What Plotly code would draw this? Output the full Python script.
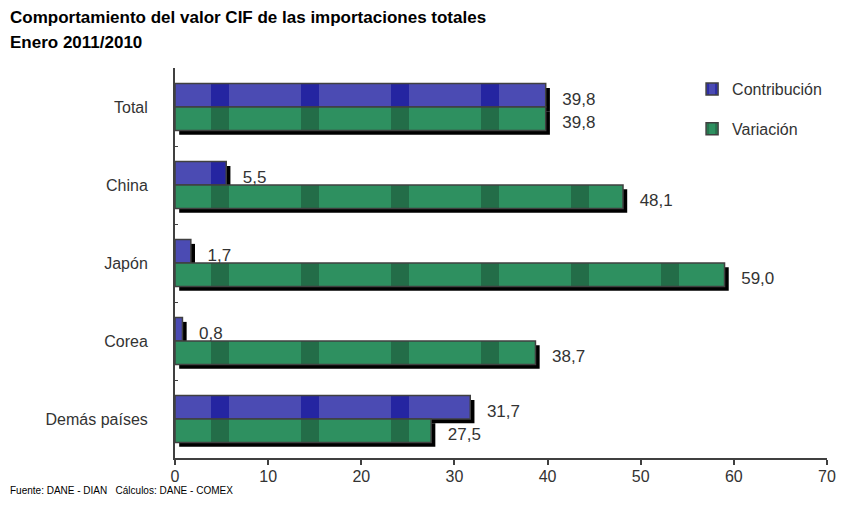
import plotly.graph_objects as go

categories = ["Total", "China", "Japón", "Corea", "Demás países"]
contribucion = [39.8, 5.5, 1.7, 0.8, 31.7]
variacion = [39.8, 48.1, 59.0, 38.7, 27.5]
x_ticks = [0, 10, 20, 30, 40, 50, 60, 70]

def fmt(v):
    return f"{v:.1f}".replace(".", ",")

BAR_W = 0.3
SHADOW_DY = 0.055
SHADOW_DX = 0.45
FONT = "Liberation Sans, Arial, sans-serif"
NARROW = "Liberation Sans Narrow, Arial Narrow, Liberation Sans, sans-serif"

blue = "#4b4bb3"
blue_dark = "#00008f"
green = "#2e9060"
green_dark = "#184a2f"
edge = "#404040"

fig = go.Figure()

# shadows (carry the value labels)
for vals, off in [(contribucion, -BAR_W), (variacion, 0.0)]:
    fig.add_trace(go.Bar(
        y=categories, x=vals, base=SHADOW_DX, orientation="h",
        width=BAR_W, offset=off + SHADOW_DY,
        marker=dict(color="#000000", line=dict(width=0)),
        text=[fmt(v) for v in vals], texttemplate="\u00a0\u00a0%{text}",
        textposition="outside", cliponaxis=False,
        textfont=dict(family=FONT, size=17, color="#333333"),
        showlegend=False, hoverinfo="skip",
    ))

fig.add_trace(go.Bar(
    y=categories, x=contribucion, orientation="h", name="Contribución",
    width=BAR_W, offset=-BAR_W,
    marker=dict(color=blue, line=dict(color=edge, width=1.5),
                pattern=dict(shape="|", fgcolor=blue_dark, bgcolor=blue, size=90,
                             solidity=0.2, fgopacity=0.5)),
    legendgroup="c",
))
fig.add_trace(go.Bar(
    y=categories, x=variacion, orientation="h", name="Variación",
    width=BAR_W, offset=0.0,
    marker=dict(color=green, line=dict(color=edge, width=1.5),
                pattern=dict(shape="|", fgcolor=green_dark, bgcolor=green, size=90,
                             solidity=0.2, fgopacity=0.5)),
    legendgroup="v",
))

fig.update_layout(
    width=844, height=515,
    margin=dict(l=175, r=17, t=68, b=57, autoexpand=False),
    paper_bgcolor="white", plot_bgcolor="white",
    barmode="overlay",
    font=dict(family=FONT, size=16, color="#333333"),
    xaxis=dict(range=[0, 70], tickvals=x_ticks, ticktext=[str(t) for t in x_ticks],
               showgrid=False, zeroline=False, showline=True, linecolor="#404040", linewidth=2,
               ticks="outside", ticklen=5, tickcolor="#404040", tickwidth=1.5,
               tickfont=dict(size=16, color="#333333"), ticklabelstandoff=-2),
    yaxis=dict(autorange="reversed", showgrid=False, showline=True, linecolor="#404040", linewidth=2,
               ticks="inside", tickson="boundaries", ticklen=3, tickcolor="#404040",
               tickfont=dict(size=16, color="#333333"), ticklabelstandoff=22),
    legend=dict(xref="container", yref="container", x=0.82, y=0.86,
                xanchor="left", yanchor="top", bgcolor="rgba(0,0,0,0)",
                font=dict(size=16, color="#333333"), tracegroupgap=16,
                itemwidth=30),
    annotations=[
        dict(text="<b>Comportamiento del valor CIF de las importaciones totales</b>",
             xref="paper", yref="paper", x=-0.256, y=(458 - 17) / 390,
             xanchor="left", yanchor="middle", showarrow=False,
             font=dict(family=FONT, size=17, color="#000000")),
        dict(text="<b>Enero 2011/2010</b>",
             xref="paper", yref="paper", x=-0.256, y=(458 - 42) / 390,
             xanchor="left", yanchor="middle", showarrow=False,
             font=dict(family=FONT, size=17, color="#000000")),
        dict(text="Fuente: DANE - DIAN   Cálculos: DANE - COMEX",
             xref="paper", yref="paper", x=-0.256, y=(458 - 491) / 390,
             xanchor="left", yanchor="middle", showarrow=False,
             font=dict(family=NARROW, size=10, color="#000000")),
    ],
)

fig.write_html("out.html", config={"displayModeBar": False},
               post_script="document.body.style.margin='0px';")
